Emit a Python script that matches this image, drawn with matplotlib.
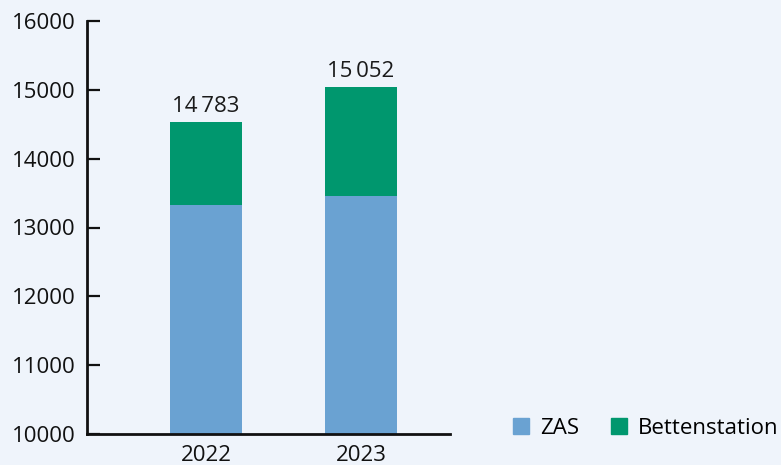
import matplotlib.pyplot as plt
import matplotlib.patches as mpatches

plt.rcParams['font.family'] = ['Open Sans', 'DejaVu Sans']

years = ['2022', '2023']
zas = [13327, 13458]
betten = [1210, 1579]
totals = ['14\u2009783', '15\u2009052']

bg = '#EFF4FB'
c_zas = '#6AA2D2'
c_bet = '#00976E'

fig = plt.figure(figsize=(7.81, 4.65), dpi=100, facecolor=bg)
ax = fig.add_axes([87 / 781, 1 - 434 / 465, 363 / 781, 413 / 465], facecolor=bg)

x = range(len(years))
base = 10000
ax.bar(x, [z - base for z in zas], bottom=base, width=0.465, color=c_zas)
ax.bar(x, betten, bottom=zas, width=0.465, color=c_bet)

for i, t in enumerate(totals):
    ax.text(i, zas[i] + betten[i] + 70, t, ha='center', va='bottom',
            fontsize=16, color='#1a1a1a')

ax.set_xlim(-0.768, 1.574)
ax.set_ylim(10000, 16000)
ax.set_yticks(range(10000, 16001, 1000))
ax.set_xticks(list(x))
ax.set_xticklabels(years)

for s in ['top', 'right']:
    ax.spines[s].set_visible(False)
for s in ['left', 'bottom']:
    ax.spines[s].set_linewidth(2)
    ax.spines[s].set_color('#111111')

ax.tick_params(axis='y', direction='in', length=9, width=1.6, pad=8,
               labelsize=16, colors='#111111')
ax.tick_params(axis='x', length=0, pad=8, labelsize=16, colors='#111111')

handles = [mpatches.Patch(color=c_zas, label='ZAS'),
           mpatches.Patch(color=c_bet, label='Bettenstation')]
fig.legend(handles=handles, loc='center left', bbox_to_anchor=(513 / 781, 1 - 428 / 465),
           ncol=2, frameon=False, fontsize=16, handlelength=0.7, handleheight=0.7,
           handletextpad=0.5, columnspacing=1.45, borderaxespad=0, borderpad=0)

fig.savefig('out.png', dpi=100, facecolor=bg)
